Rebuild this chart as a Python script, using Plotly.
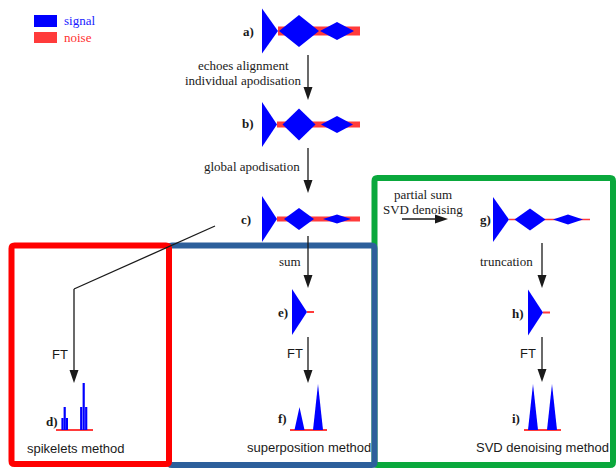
import plotly.graph_objects as go

# ---- echo-train envelopes (half amplitude / half width of each echo) ----
echo_amp_a = [22.5, 16.0, 9.0]
echo_amp_b = [22.5, 16.0, 8.5]
echo_amp_c = [23.0, 11.0, 4.5]
echo_amp_g = [22.5, 11.0, 5.0]
echo_wid_a = [16, 20, 17]
echo_wid_b = [15, 16.5, 16]
echo_wid_c = [15, 15, 14]
echo_wid_g = [16, 15.5, 15]
noise_a, noise_b, noise_c = 4.5, 3.0, 2.5

# single summed / truncated echoes (e, h)
single_amp = [23.0, 23.0]

# spectra: spikelet heights (d), summed peaks (f), SVD peaks (i)
spike_heights_1 = [12, 23, 12]
spike_heights_2 = [23, 47, 23]
sum_peak_heights = [23, 46]
svd_peak_heights = [46, 46]

BLUE = "#0000ff"
NOISE = "#ff3b3b"
INK = "#1a1a1a"
SERIF = "Liberation Serif"
SANS = "Liberation Sans"

fig = go.Figure()


def poly(xs, ys, color):
    fig.add_trace(go.Scatter(x=xs + [xs[0]], y=ys + [ys[0]], mode="lines",
                             fill="toself", fillcolor=color,
                             line=dict(width=0, color=color),
                             hoverinfo="skip", showlegend=False))


def hline(x0, x1, y, color, w):
    fig.add_trace(go.Scatter(x=[x0, x1], y=[y, y], mode="lines",
                             line=dict(color=color, width=w),
                             hoverinfo="skip", showlegend=False))


def echo_train(x0, yc, amps, wids, noise, thin=False):
    # noise band behind the echoes
    if thin:
        hline(x0 + wids[0], x0 + 97, yc, NOISE, 1.3)
    else:
        poly([x0 + wids[0], x0 + 98, x0 + 98, x0 + wids[0]],
             [yc - noise, yc - noise, yc + noise, yc + noise], NOISE)
    # first echo: half-echo starting at its maximum
    poly([x0, x0 + wids[0], x0], [yc - amps[0], yc, yc + amps[0]], BLUE)
    # full echoes as diamonds
    for cx, a, w in zip([x0 + 37, x0 + 75], amps[1:], wids[1:]):
        poly([cx - w, cx, cx + w, cx], [yc, yc - a, yc, yc + a], BLUE)


def single_echo(x0, yc, amp):
    hline(x0 + 15, x0 + 22, yc, NOISE, 2)
    poly([x0, x0 + 15, x0], [yc - amp, yc, yc + amp], BLUE)


def peaks(centers, heights, base, x0, x1):
    hline(x0, x1, base, NOISE, 2)
    for cx, h in zip(centers, heights):
        poly([cx - 5, cx, cx + 5], [base, base - h, base], BLUE)


echo_train(262, 31, echo_amp_a, echo_wid_a, noise_a)
echo_train(262, 124.5, echo_amp_b, echo_wid_b, noise_b)
echo_train(262, 219, echo_amp_c, echo_wid_c, noise_c)
echo_train(493, 219.5, echo_amp_g, echo_wid_g, 0, thin=True)

single_echo(292, 312, single_amp[0])
single_echo(528, 312.5, single_amp[1])

peaks([299.5, 318], sum_peak_heights, 430, 290, 327)
peaks([533, 552], svd_peak_heights, 430, 524, 561)

# spikelets (d)
hline(56, 93, 430, NOISE, 2)
sx, sy = [], []
for cx, h in zip([62.5, 64.7, 66.9], spike_heights_1):
    sx += [cx, cx, None]
    sy += [430, 430 - h, None]
for cx, h in zip([81.2, 83.7, 86.2], spike_heights_2):
    sx += [cx, cx, None]
    sy += [430, 430 - h, None]
fig.add_trace(go.Scatter(x=sx, y=sy, mode="lines", line=dict(color=BLUE, width=2.2),
                         hoverinfo="skip", showlegend=False))

# legend swatches
poly([34, 57, 57, 34], [15, 15, 27, 27], BLUE)
poly([34, 57, 57, 34], [32, 32, 43, 43], NOISE)

shapes = []


def box(x0, y0, x1, y1, color, r=3):
    p = (f"M{x0 + r},{y0} L{x1 - r},{y0} Q{x1},{y0} {x1},{y0 + r} "
         f"L{x1},{y1 - r} Q{x1},{y1} {x1 - r},{y1} L{x0 + r},{y1} "
         f"Q{x0},{y1} {x0},{y1 - r} L{x0},{y0 + r} Q{x0},{y0} {x0 + r},{y0} Z")
    shapes.append(dict(type="path", path=p, xref="x", yref="y",
                       line=dict(color=color, width=6), layer="below"))


box(374.5, 178, 613, 465, "#0aa83c")
box(169, 245.5, 374.5, 465, "#2c5f9b")
box(11.5, 245.5, 169, 464, "#ff0000")


def seg(x0, y0, x1, y1):
    shapes.append(dict(type="line", x0=x0, y0=y0, x1=x1, y1=y1, xref="x", yref="y",
                       line=dict(color=INK, width=1.3)))


def head_down(x, tip, h=13, w=4.5):
    shapes.append(dict(type="path", xref="x", yref="y",
                       path=f"M{x - w},{tip - h} L{x + w},{tip - h} L{x},{tip} Z",
                       fillcolor=INK, line=dict(width=0)))


def arrow_down(x, y0, tip):
    seg(x, y0, x, tip - 6)
    head_down(x, tip)


arrow_down(308, 55, 100)
arrow_down(308, 148, 193)
arrow_down(308, 236, 288)
arrow_down(308, 337, 383)
arrow_down(542, 243, 288)
arrow_down(542, 337, 382)
seg(215, 226, 74, 289)
arrow_down(74, 289, 383)
seg(402, 219, 442, 219)
shapes.append(dict(type="path", xref="x", yref="y",
                   path="M435,214.5 L435,223.5 L448,219 Z",
                   fillcolor=INK, line=dict(width=0)))

ann = []


def text(x, y, s, font=SERIF, size=13, color=INK, anchor="center", bold=False):
    ann.append(dict(x=x, y=y, xref="x", yref="y", text=f"<b>{s}</b>" if bold else s,
                    showarrow=False, xanchor=anchor, yanchor="middle",
                    font=dict(family=font, size=size, color=color)))


text(62, 20.5, "signal", color="#1a1aff", anchor="left")
text(62, 37, "noise", color="#ff3030", anchor="left")
text(243, 65, "echoes alignment")
text(243, 80, "individual apodisation")
text(252, 166, "global apodisation")
text(290, 261, "sum")
text(423, 194, "partial sum")
text(423, 209, "SVD denoising")
text(506, 261, "truncation")
for x, y, s in [(248, 31, "a)"), (248, 123, "b)"), (246, 219, "c)"),
                (52, 421, "d)"), (283, 312, "e)"), (282, 418, "f)"),
                (485, 219, "g)"), (518, 313, "h)"), (516, 418, "i)")]:
    text(x, y, s, bold=True)
text(60, 354, "FT", font=SANS)
text(295, 353, "FT", font=SANS)
text(527.5, 353, "FT", font=SANS)
text(76, 448, "spikelets method", font=SANS)
text(309, 447, "superposition method", font=SANS)
text(542.5, 447, "SVD denoising method", font=SANS)

fig.update_layout(
    width=616, height=469, margin=dict(l=0, r=0, t=0, b=0),
    paper_bgcolor="white", plot_bgcolor="white",
    xaxis=dict(range=[0, 616], visible=False, fixedrange=True),
    yaxis=dict(range=[469, 0], visible=False, fixedrange=True),
    shapes=shapes, annotations=ann, showlegend=False,
)
fig.write_html("out.html", config={"displayModeBar": False})
